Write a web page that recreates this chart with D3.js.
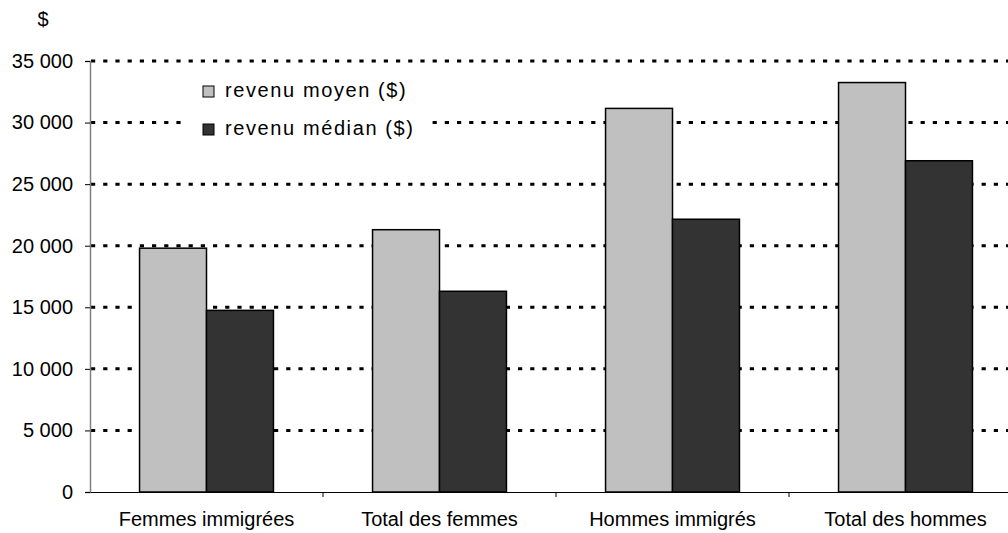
<!DOCTYPE html>
<html>
<head>
<meta charset="utf-8">
<script src="https://cdn.jsdelivr.net/npm/d3@7"></script>
<style>
  body { margin: 0; background: #fff; }
  svg { display: block; font-family: Arial, "Liberation Sans", sans-serif; }
</style>
</head>
<body>
<svg width="1008" height="533"></svg>
<script>
const categories = ['Femmes immigrées', 'Total des femmes', 'Hommes immigrés', 'Total des hommes']
const seriesNames = ['revenu moyen ($)', 'revenu médian ($)']
const moyen = [19800, 21300, 31150, 33250]
const median = [14750, 16300, 22150, 26900]
const yTicks = [0, 5000, 10000, 15000, 20000, 25000, 30000, 35000]
const colors = ['#c0c0c0', '#333333']

const svg = d3.select('svg')
const margin = { left: 90, top: 61, bottom: 41 }
const plotW = 932
const plotH = 533 - margin.top - margin.bottom

const x0 = d3.scaleBand().domain(categories).range([margin.left, margin.left + plotW])
const x1 = d3.scaleBand().domain(seriesNames).range([0, x0.bandwidth()]).paddingOuter(0.74)
const y = d3.scaleLinear().domain([0, 35000]).range([margin.top + plotH, margin.top])

const fmt = d => d3.format(',')(d).replace(',', ' ')

// grid
svg.append('g')
  .selectAll('line')
  .data(yTicks.filter(d => d > 0))
  .join('line')
    .attr('x1', margin.left + 1).attr('x2', margin.left + plotW)
    .attr('y1', d => y(d)).attr('y2', d => y(d))
    .attr('stroke', '#000')
    .attr('stroke-width', 3)
    .attr('stroke-dasharray', '4.2,8')

// legend background (covers grid)
const legend = svg.append('g')
legend.append('rect')
  .attr('x', 188).attr('y', 68).attr('width', 238).attr('height', 82)
  .attr('fill', '#fff')

// bars
const rows = categories.map((c, i) => ({ cat: c, vals: [moyen[i], median[i]] }))
svg.append('g')
  .selectAll('g')
  .data(rows)
  .join('g')
    .attr('transform', d => `translate(${x0(d.cat)},0)`)
  .selectAll('rect')
  .data(d => d.vals.map((v, j) => ({ key: seriesNames[j], v, j })))
  .join('rect')
    .attr('x', d => x1(d.key))
    .attr('width', x1.bandwidth())
    .attr('y', d => y(d.v))
    .attr('height', d => y(0) - y(d.v))
    .attr('fill', d => colors[d.j])
    .attr('stroke', '#000')
    .attr('stroke-width', 1.5)

// y axis
const yAxis = svg.append('g')
  .attr('transform', `translate(${margin.left},0)`)
  .call(d3.axisLeft(y).tickValues(yTicks).tickFormat(fmt).tickSize(5).tickPadding(12))
yAxis.select('.domain').attr('stroke', '#808080').attr('stroke-width', 1.5)
yAxis.selectAll('.tick line').attr('stroke', '#000')
yAxis.selectAll('text').attr('font-size', 20).attr('fill', '#000')
  .attr('font-family', 'Arial, "Liberation Sans", sans-serif')

// x axis
const xAxis = svg.append('g')
  .attr('transform', `translate(0,${y(0)})`)
  .call(d3.axisBottom(x0).tickSize(0).tickPadding(20))
xAxis.select('.domain').attr('stroke', '#000').attr('stroke-width', 1.2)
xAxis.selectAll('text').attr('font-size', 20).attr('fill', '#000')
  .attr('font-family', 'Arial, "Liberation Sans", sans-serif')
xAxis.selectAll('.sep')
  .data(categories.slice(1))
  .join('line')
    .attr('class', 'sep')
    .attr('x1', d => x0(d)).attr('x2', d => x0(d))
    .attr('y1', 0).attr('y2', 5)
    .attr('stroke', '#000')

// $ label
svg.append('text')
  .attr('x', 43).attr('y', 26)
  .attr('text-anchor', 'middle')
  .attr('font-size', 20)
  .text('$')

// legend items
seriesNames.forEach((s, i) => {
  const ly = 91 + i * 38
  legend.append('rect')
    .attr('x', 203).attr('y', ly - 5).attr('width', 11).attr('height', 11)
    .attr('fill', colors[i]).attr('stroke', '#000').attr('stroke-width', 1)
  legend.append('text')
    .attr('x', 225).attr('y', ly + 6)
    .attr('font-size', 20)
    .attr('letter-spacing', 1.6)
    .text(s)
})
</script>
</body>
</html>
